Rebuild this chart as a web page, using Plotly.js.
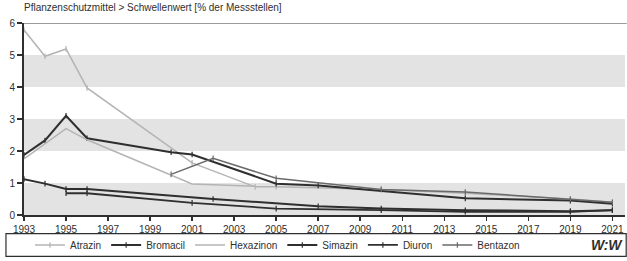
<!DOCTYPE html>
<html>
<head>
<meta charset="utf-8">
<script src="https://cdn.plot.ly/plotly-3.0.1.min.js"></script>
<style>html,body{margin:0;padding:0;background:#fff;}#chart{width:627px;height:261px;}</style>
</head>
<body>
<div id="chart"></div>
<script>
// Data (% der Messstellen über Schwellenwert)
const atrazinYears   = [1993, 1994, 1995, 1996, 2001, 2004, 2005, 2010, 2014, 2019, 2021];
const atrazinValues  = [5.78, 4.96, 5.19, 3.97, 1.63, 0.88, 0.88, 0.80, 0.68, 0.50, 0.40];

const bromacilYears  = [1993, 1994, 1995, 1996, 2000, 2001, 2005, 2007, 2014, 2019, 2021];
const bromacilValues = [1.88, 2.33, 3.10, 2.40, 1.96, 1.89, 0.98, 0.92, 0.52, 0.45, 0.35];

const hexazinonYears  = [1993, 1995, 1996, 2001, 2004];
const hexazinonValues = [1.75, 2.70, 2.35, 0.97, 0.90];

const simazinYears   = [1993, 1994, 1995, 1996, 2002, 2007, 2010, 2014, 2019, 2021];
const simazinValues  = [1.12, 0.98, 0.81, 0.81, 0.50, 0.27, 0.20, 0.15, 0.12, 0.15];

const diuronYears    = [1995, 1996, 2001, 2005, 2010, 2014, 2019, 2021];
const diuronValues   = [0.68, 0.68, 0.38, 0.20, 0.15, 0.10, 0.10, 0.15];

const bentazonYears  = [2000, 2002, 2005, 2010, 2014, 2019, 2021];
const bentazonValues = [1.27, 1.77, 1.15, 0.80, 0.72, 0.50, 0.40];

const xTickVals = [1993,1995,1997,1999,2001,2003,2005,2007,2009,2011,2013,2015,2017,2019,2021];
const yTickVals = [0,1,2,3,4,5,6];
const bandRanges = [[0,1],[2,3],[4,5]];

const titleText = "Pflanzenschutzmittel > Schwellenwert [% der Messstellen]";

const FONT = "Liberation Sans, Arial, sans-serif";
const DARK = "#2f2f2f";
const LIGHT = "#b4b4b4";
const MID = "#6a6a6a";

function mk(name, xs, ys, color, width, marker) {
  const t = {
    type: "scatter", mode: marker ? "lines+markers" : "lines",
    name: name, x: xs, y: ys,
    line: {color: color, width: width},
    hoverinfo: "skip"
  };
  if (marker) {
    t.marker = {symbol: "line-ns", size: 4, color: color, line: {color: color, width: 1.2}};
  }
  return t;
}

const traces = [
  mk("Atrazin",   atrazinYears,   atrazinValues,   LIGHT, 1.5, true),
  mk("Bromacil",  bromacilYears,  bromacilValues,  DARK,  2,   true),
  mk("Hexazinon", hexazinonYears, hexazinonValues, LIGHT, 1.5, false),
  mk("Simazin",   simazinYears,   simazinValues,   DARK,  2,   true),
  mk("Diuron",    diuronYears,    diuronValues,    DARK,  1.8, true),
  mk("Bentazon",  bentazonYears,  bentazonValues,  MID,   1.5, true)
];

const shapes = bandRanges.map(r => ({
  type: "rect", xref: "paper", yref: "y", x0: 0, x1: 1, y0: r[0], y1: r[1],
  fillcolor: "#e3e3e3", line: {width: 0}, layer: "below"
}));
shapes.push({type: "line", xref: "paper", yref: "y", x0: 0, x1: 1.003, y0: 6, y1: 6,
  line: {color: "#7a7a7a", width: 1.5}});
// legend frame
shapes.push({type: "rect", xref: "paper", yref: "paper", x0: -0.03, x1: 1.002, y0: -0.215, y1: -0.097,
  line: {color: DARK, width: 1.2}, fillcolor: "rgba(0,0,0,0)"});

const layout = {
  width: 627, height: 261,
  margin: {l: 24, r: 2, t: 23, b: 43},
  paper_bgcolor: "#ffffff", plot_bgcolor: "#ffffff",
  font: {family: FONT, size: 10, color: DARK},
  title: {text: titleText, x: 0, xref: "paper", xanchor: "left", y: 0.985, yref: "container", yanchor: "top",
          font: {family: FONT, size: 10, color: DARK}},
  xaxis: {
    range: [1993, 2021.6], tickvals: xTickVals, ticktext: xTickVals.map(String),
    showgrid: false, zeroline: false, showline: true, linecolor: DARK, linewidth: 2,
    ticks: "outside", ticklen: 4, tickwidth: 1.5, tickcolor: DARK,
    ticklabeloverflow: "allow",
    tickfont: {family: FONT, size: 10, color: DARK}, fixedrange: true
  },
  yaxis: {
    range: [0, 6], tickvals: yTickVals, ticktext: yTickVals.map(String),
    showgrid: false, zeroline: false, showline: true, linecolor: DARK, linewidth: 2,
    ticks: "outside", ticklen: 5, tickwidth: 1.5, tickcolor: DARK,
    ticklabeloverflow: "allow",
    tickfont: {family: FONT, size: 10, color: DARK}, fixedrange: true
  },
  showlegend: true,
  legend: {
    orientation: "h", x: 0.01, xanchor: "left", y: -0.156, yanchor: "middle",
    font: {family: FONT, size: 10, color: DARK}, bgcolor: "rgba(0,0,0,0)",
    borderwidth: 0, itemwidth: 30, tracegroupgap: 0
  },
  shapes: shapes,
  annotations: [{
    text: "<b><i>W:W</i></b>", xref: "paper", yref: "paper", x: 0.97, y: -0.156,
    xanchor: "center", yanchor: "middle", showarrow: false,
    font: {family: FONT, size: 14, color: DARK}
  }]
};

Plotly.newPlot("chart", traces, layout, {displayModeBar: false, staticPlot: true});
</script>
</body>
</html>
